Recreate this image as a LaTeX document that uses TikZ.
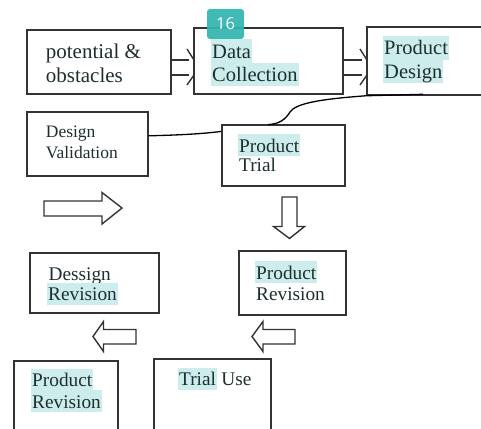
\documentclass[tikz,border=0pt]{standalone}
\usepackage{fontspec}
\setmainfont{Liberation Serif}
\newfontfamily\badgefont{Open Sans}
\usetikzlibrary{calc}
\definecolor{hl}{HTML}{CDEDED}
\definecolor{badgec}{HTML}{33B5B0}
\definecolor{linec}{HTML}{333333}
\definecolor{txt}{HTML}{1E2E2E}
\tikzset{
  bx/.style 2 args={draw=linec, line width=1.5pt, minimum width=#1, minimum height=#2, inner sep=0pt},
  word/.style={anchor=base west, inner xsep=1pt, inner ysep=1pt, text=txt, text height=18pt, text depth=3.5pt},
  hword/.style={word, fill=hl},
  sword/.style={anchor=base west, inner xsep=1pt, inner ysep=1pt, text=txt, text height=17pt, text depth=3pt},
  hsword/.style={sword, fill=hl},
  blk/.style={draw=linec, line width=1.4pt, line join=miter},
  conn/.style={draw=black, line width=1.3pt},
  fA/.style={font=\fontsize{21}{25}\selectfont},
  fB/.style={font=\fontsize{17.5}{21}\selectfont},
  fC/.style={font=\fontsize{20.5}{24}\selectfont},
  fD/.style={font=\fontsize{19.3}{23}\selectfont},
}
\begin{document}
\begin{tikzpicture}[x=1pt,y=-1pt]
\useasboundingbox (0,0) rectangle (481,428);
\clip (0,0) rectangle (481,428);
% boxes
\node[bx={144pt}{64pt}] (pot) at (99,62) {};
\node[bx={149pt}{66pt}] (dc) at (268.5,61) {};
\node[bx={153pt}{68pt}] (pd) at (443.5,61) {};
\node[bx={121pt}{64pt}] (dv) at (87.5,144) {};
\node[bx={123pt}{61pt}] (pt) at (283.5,155.5) {};
\node[bx={129pt}{60pt}] (dr) at (94.5,283) {};
\node[bx={107pt}{64pt}] (pr) at (292.5,283) {};
\node[bx={104pt}{89pt}] (prb) at (66,405.5) {};
\node[bx={117pt}{91pt}] (tu) at (212.5,404.5) {};
% texts
\node[word, fA] (t1) at (44.7,59) {potential \&};
\node[word, fA] (t2) at (44.7,82) {obstacles};
\node[hword, fC] (t3) at (211,58) {Data};
\node[hword, fC] (t4) at (211,81.5) {Collection};
\node[hword, fC] (t5) at (383,55) {Product};
\node[hword, fC] (t6) at (383,78) {Design};
\node[sword, fB] (t7) at (44.7,137.5) {Design};
\node[sword, fB] (t8) at (44.7,158.5) {Validation};
\node[hsword, fD] (t9) at (238,152) {Product};
\node[sword, fD] (t10) at (238,171.7) {Trial};
\node[sword, fD] (t11) at (47.5,280) {Dessign};
\node[hsword, fD] (t12) at (47,300.7) {Revision};
\node[hsword, fD] (t13) at (255,279.3) {Product};
\node[sword, fD] (t14) at (255,300) {Revision};
\node[hsword, fD] (t15) at (31,386.7) {Product};
\node[hsword, fD] (t16) at (31,408.3) {Revision};
\node[hsword, fD] (t17) at (178,385.7) {Trial};
\node[sword, fD] (t18) at ($(t17.base east)+(3,0)$) {Use};
% block arrows (top)
\draw[blk] (pot.east |- 0,60) -- (189,60);
\draw[blk] (pot.east |- 0,75) -- (189,75);
\draw[blk] (187,49) .. controls (191,54) .. (194,60) (194,75) .. controls (191,80) .. (187,85);
\draw[blk] (dc.east |- 0,60) -- (362,60);
\draw[blk] (dc.east |- 0,75) -- (362,75);
\draw[blk] (360,49) .. controls (364,54) .. (367,60) (367,75) .. controls (364,80) .. (360,85);
% open block arrows
\draw[blk] (44,201) -- (102,201) -- (102,192.5) -- (122,208) -- (102,224) -- (102,216) -- (44,216) -- cycle;
\draw[blk] (282,197) -- (297,197) -- (297,226.5) -- (304.5,226.5) -- (289.5,238.5) -- (273.5,226.5) -- (282,226.5) -- cycle;
\draw[blk] (136,329.5) -- (103.5,329.5) -- (103.5,321.5) -- (93,336.5) -- (103.5,351.5) -- (103.5,344) -- (136,344) -- cycle;
\draw[blk] (295,329.5) -- (263,329.5) -- (263,321.5) -- (252,336.5) -- (263,351.5) -- (263,344) -- (295,344) -- cycle;
% connectors
\coordinate (cA) at (423,94.3);
\coordinate (cB) at (268,124.6);
\draw[conn] (cA) -- (pd.south west) .. controls (322,99) and (296,103) .. (290,112) .. controls (285,120) and (279,124) .. (cB);
\draw[conn] ($(dv.north east)!0.375!(dv.south east)$) .. controls (180,135) and (200,134) .. ($(pt.north west)!0.115!(pt.south west)$);
% badge
\node[fill=badgec, fill opacity=0.93, text opacity=1, rounded corners=3pt, minimum width=37pt, minimum height=30pt, inner sep=0pt, text=white, font=\badgefont\fontsize{16.5}{18}\selectfont] (badge) at (225.5,24) {16};
\end{tikzpicture}
\end{document}
